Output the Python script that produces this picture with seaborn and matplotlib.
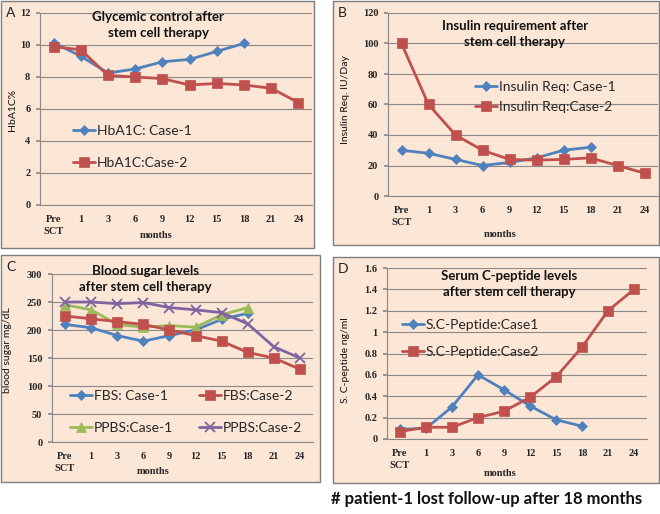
import numpy as np
import matplotlib
matplotlib.use("Agg")
import matplotlib.pyplot as plt
from matplotlib.patches import Rectangle
import seaborn as sns

# x categories (months after stem cell therapy)
months = ["Pre\nSCT", "1", "3", "6", "9", "12", "15", "18", "21", "24"]

# A: HbA1C %
hba1c_case1 = [10.15, 9.3, 8.25, 8.5, 8.95, 9.1, 9.6, 10.1]
hba1c_case2 = [9.9, 9.7, 8.1, 8.0, 7.9, 7.5, 7.6, 7.5, 7.3, 6.4]

# B: insulin requirement IU/day
insulin_case1 = [30, 28, 24, 20, 22, 25, 30, 32]
insulin_case2 = [100, 60, 40, 30, 24, 23.5, 24, 25, 20, 15]

# C: blood sugar mg/dL
fbs_case1 = [210, 204, 190, 180, 190, 200, 219, 230]
fbs_case2 = [225, 220, 215, 210, 200, 190, 180, 160, 150, 130]
ppbs_case1 = [245, 236, 210, 205, 208, 205, 227, 240]
ppbs_case2 = [250, 250, 247, 249, 240, 236, 231, 211, 170, 150]

# D: serum C-peptide ng/ml
cpep_case1 = [0.09, 0.1, 0.3, 0.6, 0.46, 0.31, 0.18, 0.12]
cpep_case2 = [0.07, 0.11, 0.11, 0.2, 0.26, 0.39, 0.58, 0.86, 1.2, 1.4]

BLUE, RED, GREEN, PURPLE = "#4F81BD", "#C0504D", "#9BBB59", "#8064A2"
PEACH = "#FCE6D5"
GRID = "#8A8A8A"

sns.set_theme(style="white")
plt.rcParams["font.family"] = ["Lato", "DejaVu Sans"]

W, H = 660, 514
fig = plt.figure(figsize=(W / 100, H / 100), dpi=100)
fig.patch.set_facecolor("white")

TICKFONT = dict(family=["Liberation Serif", "DejaVu Serif"], weight="bold", size=7.5)


def fx(px):
    return px / W


def fy(py):
    return 1 - py / H


def panel(box, area, letter, title, title_xy, series, ylim, yticks, ylabel,
          ylabel_xy, xlabel_xy, leg_xy, leg_spacing, leg_ncol=1, yfmt="{:g}"):
    bx0, by0, bx1, by1 = box
    fig.add_artist(Rectangle((fx(bx0), fy(by1)), fx(bx1 - bx0), (by1 - by0) / H,
                             transform=fig.transFigure, facecolor=PEACH,
                             edgecolor="#7F7F7F", linewidth=1.0, zorder=-1))
    fig.text(fx(bx0 + 5), fy(by0 + 12), letter, fontsize=10, va="center",
             ha="left", color="#222222")

    l, t, r, b = area
    ax = fig.add_axes([fx(l), fy(b), fx(r - l), (b - t) / H])
    ax.set_facecolor("none")

    handles, labels = [], []
    for name, vals, color, marker, ms in series:
        x = np.arange(len(vals))
        sns.lineplot(x=x, y=vals, ax=ax, color=color, marker=marker,
                     markersize=ms, linewidth=2.0, legend=False)
        line = ax.lines[-1]
        line.set_markeredgecolor(color)
        line.set_markerfacecolor(color)
        line.set_markeredgewidth(1.3 if marker == "x" else 0.5)
        handles.append(line)
        labels.append(name)

    ax.set_xlim(-0.5, len(months) - 0.5)
    ax.set_ylim(*ylim)
    ax.set_yticks(yticks)
    ax.set_yticklabels([yfmt.format(v) for v in yticks], fontdict=TICKFONT)
    ax.set_xticks(np.arange(len(months)))
    ax.set_xticklabels(months, fontdict=TICKFONT, linespacing=1.5)
    ax.set_xticks(np.arange(len(months) + 1) - 0.5, minor=True)
    ax.tick_params(axis="x", which="major", length=0, pad=7)
    ax.tick_params(axis="x", which="minor", length=3.5, color=GRID, direction="out")
    ax.tick_params(axis="y", length=3, color=GRID, direction="out", pad=4, left=True)
    for lab in ax.get_xticklabels():
        lab.set_ha("center")
    ax.yaxis.grid(True, color=GRID, linewidth=0.8)
    ax.xaxis.grid(False)
    ax.set_axisbelow(True)
    for s in ("top", "right"):
        ax.spines[s].set_visible(False)
    for s in ("left", "bottom"):
        ax.spines[s].set_color(GRID)
        ax.spines[s].set_linewidth(0.8)

    ax.set_ylabel(ylabel, fontsize=7.5, color="#111111")
    ax.yaxis.label.set_va("center")
    ax.yaxis.set_label_coords(fx(ylabel_xy[0]), fy(ylabel_xy[1]), transform=fig.transFigure)
    ax.set_xlabel("months", fontdict=TICKFONT)
    ax.xaxis.label.set_va("center")
    ax.xaxis.set_label_coords(fx(xlabel_xy[0]), fy(xlabel_xy[1]), transform=fig.transFigure)

    fig.text(fx(title_xy[0]), fy(title_xy[1]), title, ha="center", va="center",
             fontsize=9.5, fontweight="bold", linespacing=1.4, color="#111111")

    ax.legend(handles, labels, loc="upper left", ncol=leg_ncol,
              bbox_to_anchor=(fx(leg_xy[0]), fy(leg_xy[1])),
              bbox_transform=fig.transFigure, frameon=False, fontsize=10,
              handlelength=1.6, handletextpad=0.1, borderpad=0, borderaxespad=0,
              labelspacing=leg_spacing, columnspacing=1.9, numpoints=1)
    return ax


panel((1, 1, 314, 248), (40, 13, 312, 205), "A",
      "Glycemic control after\nstem cell therapy", (158, 25),
      [("HbA1C: Case-1", hba1c_case1, BLUE, "D", 5.5),
       ("HbA1C:Case-2", hba1c_case2, RED, "s", 7.5)],
      (0, 12), [0, 2, 4, 6, 8, 10, 12], "HbA1C%", (13, 110), (156, 236),
      (73, 125), 1.45)

panel((333, 1, 659, 245), (388, 13, 658, 196), "B",
      "Insulin requirement after\nstem cell therapy", (515, 34),
      [("Insulin Req: Case-1", insulin_case1, BLUE, "D", 5.5),
       ("Insulin Req:Case-2", insulin_case2, RED, "s", 7.5)],
      (0, 120), [0, 20, 40, 60, 80, 100, 120], "Insulin Req. IU/Day",
      (345, 100), (500, 235), (475, 81), 0.6)

panel((1, 255, 320, 482), (52, 274, 313, 442), "C",
      "Blood sugar levels\nafter stem cell therapy", (145, 279),
      [("FBS: Case-1", fbs_case1, BLUE, "D", 5.5),
       ("PPBS:Case-1", ppbs_case1, GREEN, "^", 6.5),
       ("FBS:Case-2", fbs_case2, RED, "s", 7.5),
       ("PPBS:Case-2", ppbs_case2, PURPLE, "x", 6.5)],
      (0, 300), [0, 50, 100, 150, 200, 250, 300], "blood sugar mg/dL",
      (8, 350), (153, 472), (70, 390), 1.45, leg_ncol=2)

panel((333, 257, 659, 483), (387, 268, 647, 439), "D",
      "Serum C-peptide levels\nafter stem cell therapy", (509, 284),
      [("S.C-Peptide:Case1", cpep_case1, BLUE, "D", 5.5),
       ("S.C-Peptide:Case2", cpep_case2, RED, "s", 7.5)],
      (0, 1.6), [0, 0.2, 0.4, 0.6, 0.8, 1.0, 1.2, 1.4, 1.6], "S. C-peptide ng/ml",
      (345, 360), (500, 473), (402, 319), 1.1)

fig.text(fx(331), fy(499), "# patient-1 lost follow-up after 18 months",
         fontsize=12, fontweight="bold", ha="left", va="center", color="#111111")

fig.savefig("out.png", dpi=100, facecolor="white")
